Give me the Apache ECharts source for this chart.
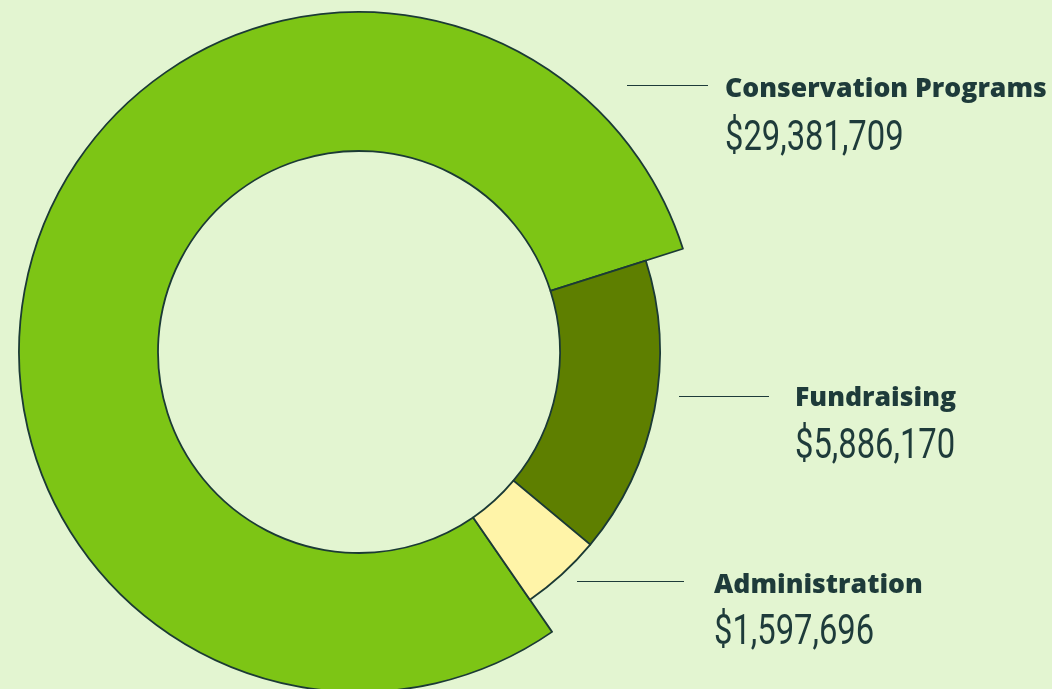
<!DOCTYPE html>
<html>
<head>
<meta charset="utf-8">
<script src="https://cdn.jsdelivr.net/npm/echarts@6/dist/echarts.min.js"></script>
<style>
html,body{margin:0;padding:0;background:#e3f5d1;}
#c{width:1052px;height:689px;}
</style>
</head>
<body>
<div id="c"></div>
<script>
const categories = ['Conservation Programs', 'Fundraising', 'Administration'];
const values = [29381709, 5886170, 1597696];
const colors = ['#7dc515', '#5e7f00', '#fff4a8'];

// label placement (text left x, name top y, value middle y, line start x, line end x, line y)
const labelPos = [
  {x: 725, y: 71, vy: 139, lx1: 627, lx2: 708, ly: 85.5},
  {x: 795, y: 380, vy: 447, lx1: 679, lx2: 769, ly: 396.5},
  {x: 714, y: 567, vy: 633, lx1: 577, lx2: 684, ly: 581.5}
];

const chart = echarts.init(document.getElementById('c'));
const fmt = v => '$' + v.toLocaleString('en-US');
const border = '#1b3a35';
const textColor = '#1e3b3a';

function makeData(showSet) {
  return categories.map((name, i) => {
    const vis = showSet.includes(i);
    return {
      name: name,
      value: values[i],
      itemStyle: vis ? {color: colors[i], borderColor: border, borderWidth: 1.8}
                     : {color: 'rgba(0,0,0,0)', borderWidth: 0},
      label: {show: vis},
      labelLine: {show: vis}
    };
  });
}

const labelCfg = {
  show: true,
  position: 'outside',
  formatter: p => p.name,
  fontFamily: '"Open Sans"',
  fontWeight: 800,
  fontSize: 26.6,
  color: textColor,
  lineHeight: 36
};

const layoutFn = params => {
  const p = labelPos[params.dataIndex];
  return {
    x: p.x, y: p.y, align: 'left', verticalAlign: 'top',
    labelLinePoints: [[p.lx1, p.ly], [p.lx2, p.ly], [p.lx2, p.ly]]
  };
};

const common = {
  type: 'pie',
  center: [359, 352],
  startAngle: -55.4,
  clockwise: true,
  avoidLabelOverlap: false,
  silent: true,
  label: labelCfg,
  labelLine: {show: true, lineStyle: {color: '#1e3b3a', width: 1}},
  labelLayout: layoutFn,
  emphasis: {disabled: true}
};

const valueTexts = values.map((v, i) => ({
  type: 'text',
  x: labelPos[i].x,
  y: labelPos[i].vy,
  scaleX: 0.78,
  silent: true,
  style: {
    text: fmt(v),
    fill: textColor,
    font: '400 42px Roboto',
    textAlign: 'left',
    textVerticalAlign: 'middle'
  }
}));

chart.setOption({
  backgroundColor: '#e3f5d1',
  animation: false,
  graphic: valueTexts,
  series: [
    Object.assign({}, common, {radius: [201, 340], data: makeData([0])}),
    Object.assign({}, common, {radius: [201, 301], data: makeData([1, 2])})
  ]
});
</script>
</body>
</html>
